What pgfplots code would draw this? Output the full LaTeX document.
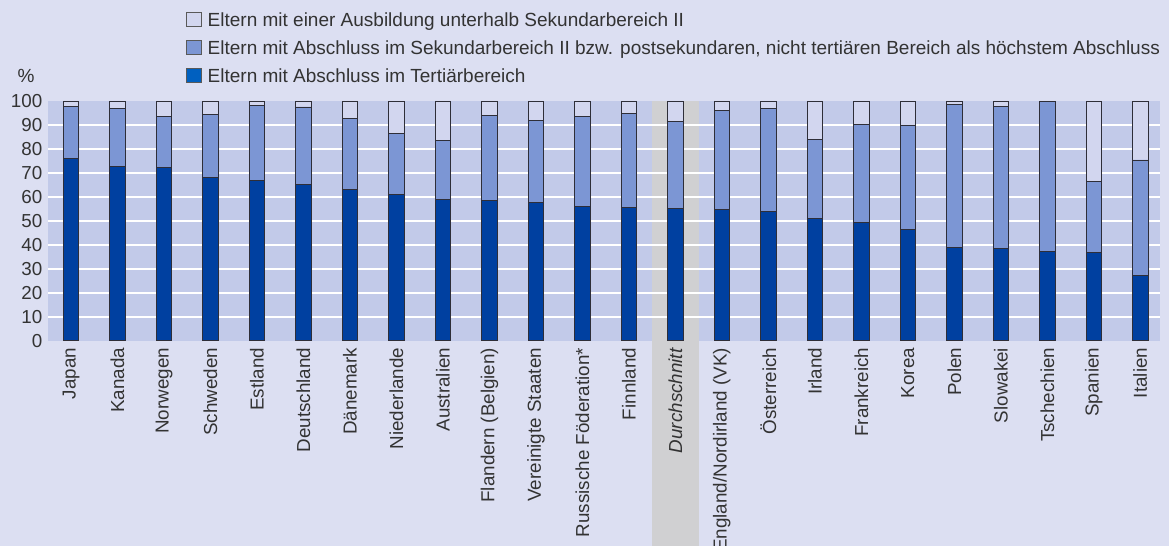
\documentclass[border=0pt]{standalone}
\usepackage{fontspec}
\setmainfont{Liberation Sans}
\usepackage{pgfplots}
\pgfplotsset{compat=1.18}
\usepackage{pgfplotstable}
\definecolor{pagebg}{HTML}{DCDFF2}
\definecolor{plotbg}{HTML}{C2CAE9}
\definecolor{tert}{HTML}{0040A0}
\definecolor{sek}{HTML}{7C96D4}
\definecolor{unter}{HTML}{D2D6EF}
\definecolor{band}{HTML}{D0D0D2}
\definecolor{txt}{HTML}{333333}
\definecolor{edge}{HTML}{2E2E38}
\definecolor{legdark}{HTML}{0060C0}
\newcommand{\fs}{\fontsize{19bp}{22bp}\selectfont}
\newcommand{\fst}{\fontsize{18.8bp}{22bp}\selectfont}

\pgfplotstableread{
x t s u
0 76.1 21.8 2.1
1 72.7 24.0 3.3
2 72.3 21.4 6.3
3 67.9 26.3 5.8
4 66.8 31.3 1.9
5 65.1 32.4 2.5
6 63.0 29.8 7.2
7 60.9 25.6 13.5
8 59.0 24.4 16.6
9 58.4 35.6 6.0
10 57.7 34.0 8.3
11 55.8 37.9 6.3
12 55.5 39.4 5.1
13 55.1 36.4 8.5
14 54.9 41.3 3.8
15 54.1 42.8 3.1
16 50.8 33.2 16.0
17 49.4 40.9 9.7
18 46.5 43.2 10.3
19 38.9 59.6 1.5
20 38.5 59.4 2.1
21 37.4 62.2 0.4
22 36.7 29.8 33.5
23 27.4 48.0 24.6
}\data

\pgfplotsset{frame/.style={
  at={(48bp,205.3bp)}, anchor=south west,
  scale only axis, width=1112bp, height=239.7bp,
  xmin=-0.495, xmax=23.425, ymin=0, ymax=100,
  clip=false, axis line style={draw=none}, major tick length=0pt}}

\begin{document}
\begin{tikzpicture}[x=1bp,y=1bp]
\fill[pagebg] (0,0) rectangle (1169,546);
\begin{axis}[frame, axis background/.style={fill=plotbg}, xtick=\empty, ytick=\empty]
\fill[band] (axis cs:12.5,100) rectangle (axis cs:13.5,-95);
\pgfplotsinvokeforeach{10,20,...,90}{
  \draw[white, line width=1.6bp] (axis cs:-0.495,#1) -- (axis cs:23.425,#1);
}
\end{axis}
\begin{axis}[
  frame,
  ybar stacked, bar width=15.5bp,
  xtick={0,...,23},
  xticklabels={Japan,Kanada,Norwegen,Schweden,Estland,Deutschland,D\"anemark,Niederlande,Australien,Flandern (Belgien),Vereinigte Staaten,Russische F\"oderation*,Finnland,\textit{Durchschnitt},England/Nordirland (VK),\"Osterreich,Irland,Frankreich,Korea,Polen,Slowakei,Tschechien,Spanien,Italien},
  x tick label style={rotate=90, anchor=east, inner sep=0pt},
  xticklabel shift=7bp,
  ytick={0,10,...,100},
  y tick label style={anchor=east, inner sep=0pt},
  yticklabel shift=5.5bp,
  tick label style={font=\fst, text=txt},
  /pgf/number format/assume math mode=true,
]
\addplot[fill=tert, draw=edge, line width=0.9bp] table[x=x,y=t]{\data};
\addplot[fill=sek, draw=edge, line width=0.9bp] table[x=x,y=s]{\data};
\addplot[fill=unter, draw=edge, line width=0.9bp] table[x=x,y=u]{\data};
\end{axis}
\filldraw[fill=unter, draw=black!65, line width=0.9bp] (186.5,519.5) rectangle (201,533.5);
\filldraw[fill=sek, draw=black!65, line width=0.9bp] (186.5,491.5) rectangle (201,505.5);
\filldraw[fill=legdark, draw=black!65, line width=0.9bp] (186.5,463.5) rectangle (201,477.5);
\node[anchor=base west, inner sep=0pt, text=txt, font=\fs] at (207.5,519) {Eltern mit einer Ausbildung unterhalb Sekundarbereich II};
\node[anchor=base west, inner sep=0pt, text=txt, font=\fs] at (207.5,491) {Eltern mit Abschluss im Sekundarbereich II bzw. postsekundaren, nicht terti\"aren Bereich als h\"ochstem Abschluss};
\node[anchor=base west, inner sep=0pt, text=txt, font=\fs] at (207.5,463) {Eltern mit Abschluss im Terti\"arbereich};
\node[anchor=base west, inner sep=0pt, text=txt, font=\fs] at (17.5,463.3) {\%};
\pgfresetboundingbox
\path[use as bounding box] (0,0) rectangle (1169,546);
\end{tikzpicture}
\end{document}
